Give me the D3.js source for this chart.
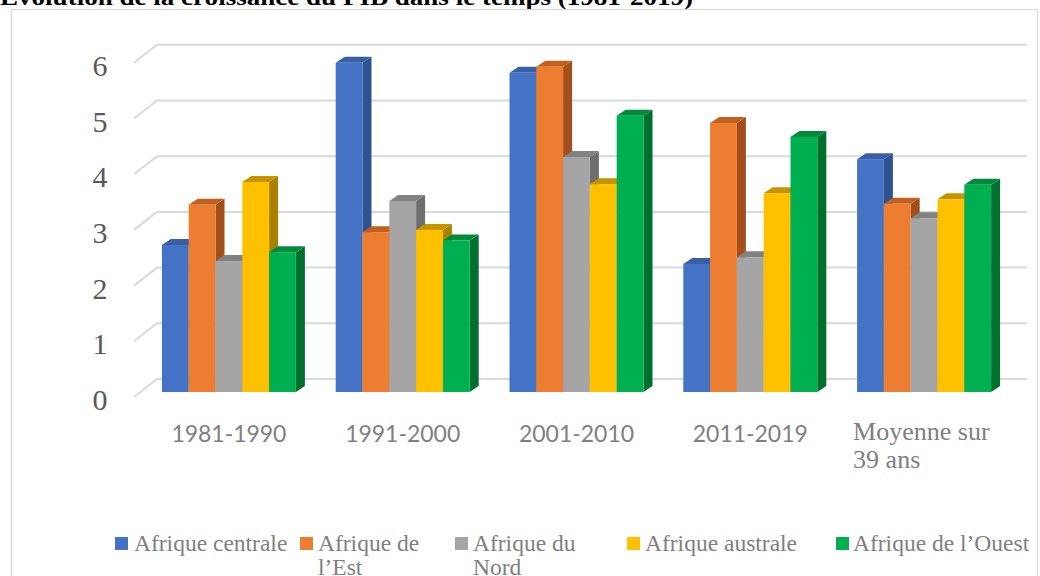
<!DOCTYPE html>
<html>
<head>
<meta charset="utf-8">
<script src="https://cdn.jsdelivr.net/npm/d3@7"></script>
<style>
  body { margin: 0; background: #fff; }
</style>
</head>
<body>
<div id="chart"></div>
<script>
// Data
var categories = ["1981-1990", "1991-2000", "2001-2010", "2011-2019", "Moyenne sur 39 ans"];
var series = ["Afrique centrale", "Afrique de l’Est", "Afrique du Nord", "Afrique australe", "Afrique de l’Ouest"];
var afriqueCentrale = [2.64, 5.91, 5.73, 2.30, 4.18];
var afriqueEst      = [3.36, 2.87, 5.84, 4.83, 3.38];
var afriqueNord     = [2.35, 3.43, 4.22, 2.42, 3.12];
var afriqueAustrale = [3.77, 2.91, 3.73, 3.57, 3.46];
var afriqueOuest    = [2.51, 2.72, 4.96, 4.58, 3.72];
var yTicks = [0, 1, 2, 3, 4, 5, 6];

var values = [afriqueCentrale, afriqueEst, afriqueNord, afriqueAustrale, afriqueOuest];

// Measurement
var w = 1040, h = 576;
var baseY = 392;          // bar plane floor
var frontX = 134;         // front edge of gridlines
var depth = [23, -18];    // back plane offset of the walls
var barDepth = [9, -6];   // 3d offset of each bar
var serif = "'Liberation Serif', 'Times New Roman', 'DejaVu Serif', serif";

var colors = ["#4472c4", "#ed7d31", "#a5a5a5", "#ffc000", "#00b050"];
var sideColors = ["#2f5290", "#a24f1b", "#6e6e6e", "#a98000", "#00702f"];
var topColors = ["#3a5fa5", "#c2601f", "#828282", "#c69400", "#008a3c"];

var svg = d3.select("#chart")
  .append("svg")
  .attr("width", w)
  .attr("height", h);

// Title (cut at top of picture)
svg.append("text")
  .attr("x", 0)
  .attr("y", 5)
  .attr("font-family", serif)
  .attr("font-weight", "bold")
  .attr("font-size", 23)
  .attr("fill", "#000")
  .attr("textLength", 693)
  .attr("lengthAdjust", "spacingAndGlyphs")
  .text("Évolution de la croissance du PIB dans le temps (1981-2019)");

// Frame
svg.append("rect")
  .attr("x", 11.5)
  .attr("y", 9.5)
  .attr("width", 1026)
  .attr("height", 600)
  .attr("fill", "none")
  .attr("stroke", "#d9d9d9")
  .attr("stroke-width", 1.2);

// Scaling
var xScale = d3.scaleBand()
  .domain(categories)
  .range([142, 1011])
  .paddingInner(0.229)
  .paddingOuter(0.1145);

var xSub = d3.scaleBand()
  .domain(series)
  .range([0, xScale.bandwidth()]);

var yScale = d3.scaleLinear()
  .domain([0, 6])
  .range([baseY, baseY - 6 * 55.7]);

// Gridlines
var frontOff = 5, backOff = -13;
var grid = svg.append("g").attr("class", "grid");
grid.selectAll(".back")
  .data(yTicks)
  .enter()
  .append("line")
  .attr("x1", frontX + depth[0])
  .attr("x2", 1027)
  .attr("y1", function(d) { return yScale(d) + backOff; })
  .attr("y2", function(d) { return yScale(d) + backOff; })
  .attr("stroke", "#d9d9d9")
  .attr("stroke-width", 2);

grid.selectAll(".diag")
  .data(yTicks)
  .enter()
  .append("line")
  .attr("x1", frontX)
  .attr("x2", frontX + depth[0])
  .attr("y1", function(d) { return yScale(d) + frontOff; })
  .attr("y2", function(d) { return yScale(d) + backOff; })
  .attr("stroke", "#d9d9d9")
  .attr("stroke-width", 2);

// Y labels
svg.selectAll(".ylabel")
  .data(yTicks)
  .enter()
  .append("text")
  .attr("class", "ylabel")
  .attr("x", 100)
  .attr("y", function(d) { return yScale(d) + frontOff + 13; })
  .attr("text-anchor", "middle")
  .attr("font-family", serif)
  .attr("font-size", 30)
  .attr("fill", "#595959")
  .text(function(d) { return d; });

// Bars
var groups = svg.selectAll(".group")
  .data(categories)
  .enter()
  .append("g")
  .attr("class", "group")
  .attr("transform", function(d) { return "translate(" + xScale(d) + ",0)"; });

groups.each(function(cat, ci) {
  var g = d3.select(this);
  series.forEach(function(s, si) {
    var v = values[si][ci];
    var x = xSub(s), bw = xSub.bandwidth();
    var top = yScale(v);
    // side
    g.append("path")
      .attr("d", "M" + (x + bw) + "," + top + "L" + (x + bw + barDepth[0]) + "," + (top + barDepth[1]) +
        "L" + (x + bw + barDepth[0]) + "," + (baseY + barDepth[1]) + "L" + (x + bw) + "," + baseY + "Z")
      .attr("fill", sideColors[si]);
    // top
    g.append("path")
      .attr("d", "M" + x + "," + top + "L" + (x + barDepth[0]) + "," + (top + barDepth[1]) +
        "L" + (x + bw + barDepth[0]) + "," + (top + barDepth[1]) + "L" + (x + bw) + "," + top + "Z")
      .attr("fill", topColors[si]);
    // front
    g.append("rect")
      .attr("x", x)
      .attr("y", top)
      .attr("width", bw)
      .attr("height", baseY - top)
      .attr("fill", colors[si]);
  });
});

// Category labels
svg.selectAll(".xlabel")
  .data(categories.slice(0, 4))
  .enter()
  .append("text")
  .attr("class", "xlabel")
  .attr("x", function(d) { return xScale(d) + xScale.bandwidth() / 2; })
  .attr("y", 442)
  .attr("text-anchor", "middle")
  .attr("font-family", "Lato, 'Open Sans', sans-serif")
  .attr("font-size", 23)
  .attr("fill", "#7f7f7f")
  .attr("textLength", 115)
  .attr("lengthAdjust", "spacingAndGlyphs")
  .text(function(d) { return d; });

var last = categories[4];
var lastLabel = svg.append("text")
  .attr("font-family", serif)
  .attr("font-size", 26)
  .attr("fill", "#7f7f7f");
lastLabel.append("tspan")
  .attr("x", xScale(last) + xScale.bandwidth() / 2 - 71)
  .attr("y", 440)
  .text("Moyenne sur");
lastLabel.append("tspan")
  .attr("x", xScale(last) + xScale.bandwidth() / 2 - 71)
  .attr("y", 468)
  .text("39 ans");

// Legend
var legendX = [115, 300, 455, 627, 836];
var legendLines = [["Afrique centrale"], ["Afrique de", "l’Est"], ["Afrique du", "Nord"], ["Afrique australe"], ["Afrique de l’Ouest"]];

var legend = svg.selectAll(".legend")
  .data(series)
  .enter()
  .append("g")
  .attr("class", "legend")
  .attr("transform", function(d, i) { return "translate(" + legendX[i] + ",0)"; });

legend.append("rect")
  .attr("x", 0)
  .attr("y", 537)
  .attr("width", 13)
  .attr("height", 13)
  .attr("fill", function(d, i) { return colors[i]; });

legend.each(function(d, i) {
  var t = d3.select(this).append("text")
    .attr("font-family", serif)
    .attr("font-size", 23.5)
    .attr("fill", "#7f7f7f");
  legendLines[i].forEach(function(line, li) {
    t.append("tspan")
      .attr("x", i == 0 ? 19 : 23 - (i == 4 ? 6 : 5))
      .attr("y", 551 + li * 24)
      .text(line);
  });
});
</script>
</body>
</html>
